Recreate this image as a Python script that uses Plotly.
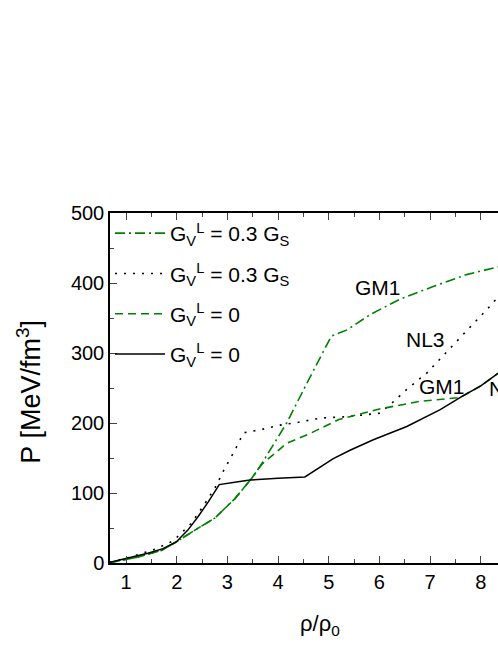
import plotly.graph_objects as go

# NL3, G_V^L = 0 (solid black)
nl3_x = [0.68, 1.04, 1.43, 1.73, 1.99, 2.22, 2.42, 2.62, 2.84, 3.21, 3.45, 4.0, 4.53,
         5.09, 5.42, 5.88, 6.54, 7.2, 7.63, 8.0, 8.34]
nl3_y = [1, 7, 14, 20.5, 30, 47, 66, 87, 112, 116, 118.5, 121, 123,
         149, 161, 176, 195, 219, 238, 253, 271]

# NL3, G_V^L = 0.3 G_S (dotted black)
nl3v_x = [0.68, 1.04, 1.57, 1.93, 2.28, 2.54, 2.76, 2.94, 3.14, 3.32, 3.69, 4.04, 4.4,
          4.83, 5.36, 6.01, 6.21, 6.54, 6.93, 7.13, 7.46, 7.79, 8.12, 8.34]
nl3v_y = [1, 7.5, 19.6, 31.5, 56, 83, 108, 134, 160, 186, 191, 197, 201,
          207, 209, 214, 226, 248, 271, 286, 311, 337, 362, 380]

# GM1, G_V^L = 0.3 G_S (green dash-dot)
gm1v_x = [0.68, 1.24, 1.70, 1.99, 2.36, 2.75, 3.15, 3.48, 3.64, 4.17, 4.57, 5.05,
          5.36, 5.82, 6.41, 7.06, 7.72, 8.34]
gm1v_y = [0.5, 8.6, 18, 30, 47, 64, 92, 121, 137.5, 200, 257, 324,
          333, 355, 377, 395, 412, 423]

# GM1, G_V^L = 0 (green dashed)
gm1_x = [0.68, 1.24, 1.70, 1.99, 2.36, 2.75, 3.15, 3.48, 3.68, 4.17, 4.63, 5.2,
         6.0, 6.8, 7.53, 7.63, 8.0, 8.34]
gm1_y = [0.5, 8.6, 18, 30, 47, 64, 92, 121, 141, 171, 185, 205,
         220, 231, 236, 238, 253, 271]

GREEN = "#008000"
FONT = "Liberation Sans, Arial, sans-serif"

fig = go.Figure()
fig.add_trace(go.Scatter(x=gm1v_x, y=gm1v_y, mode="lines", legendgroup="a",
                         name="G<sub>V</sub><sup>L</sup> = 0.3 G<sub>S</sub>",
                         line=dict(color=GREEN, width=1.6, dash="10px,4px,2px,4px")))
fig.add_trace(go.Scatter(x=nl3v_x, y=nl3v_y, mode="lines", legendgroup="b",
                         name="G<sub>V</sub><sup>L</sup> = 0.3 G<sub>S</sub>",
                         line=dict(color="black", width=1.6, dash="2px,7px")))
fig.add_trace(go.Scatter(x=gm1_x, y=gm1_y, mode="lines", legendgroup="c",
                         name="G<sub>V</sub><sup>L</sup> = 0",
                         line=dict(color=GREEN, width=1.6, dash="8px,5px")))
fig.add_trace(go.Scatter(x=nl3_x, y=nl3_y, mode="lines", legendgroup="d",
                         name="G<sub>V</sub><sup>L</sup> = 0",
                         line=dict(color="black", width=1.5)))

labels = [("GM1", 5.97, 393, "center"), ("NL3", 6.9, 319, "center"),
          ("GM1", 7.23, 252, "center"), ("NL3", 8.13, 250, "left")]
for txt, lx, ly, anc in labels:
    fig.add_annotation(x=lx, y=ly, text=txt, showarrow=False, xanchor=anc,
                       font=dict(size=21, color="black", family=FONT))

fig.add_annotation(text="P [MeV/fm<sup>3</sup>]", textangle=-90, showarrow=False,
                   xref="paper", yref="paper", x=-0.211, y=0.49,
                   xanchor="center", yanchor="middle",
                   font=dict(size=27, color="black", family=FONT))
fig.add_annotation(text="ρ/ρ<sub>0</sub>", showarrow=False,
                   xref="paper", yref="paper", x=0.541, y=-0.177,
                   xanchor="center", yanchor="middle",
                   font=dict(size=22, color="black", family=FONT))

fig.update_xaxes(range=[0.684, 8.34], showline=True, linecolor="black", linewidth=1.5,
                 mirror="ticks", ticks="inside", ticklen=7, tickwidth=1.2,
                 tickvals=[1, 2, 3, 4, 5, 6, 7, 8], showgrid=False, zeroline=False,
                 minor=dict(tickvals=[1.5, 2.5, 3.5, 4.5, 5.5, 6.5, 7.5], ticks="inside",
                            ticklen=4, tickwidth=1.2),
                 tickfont=dict(size=20, color="black", family=FONT))
fig.update_yaxes(range=[0, 500], showline=True, linecolor="black", linewidth=1.5,
                 ticks="inside", ticklen=7, tickwidth=1.2, dtick=100, showgrid=False,
                 zeroline=False,
                 minor=dict(dtick=50, ticks="inside", ticklen=4, tickwidth=1.2),
                 tickfont=dict(size=20, color="black", family=FONT))

fig.update_layout(
    width=498, height=645,
    margin=dict(l=110, r=0, t=213, b=82),
    plot_bgcolor="white", paper_bgcolor="white",
    showlegend=True,
    legend=dict(x=0.0, y=1.0, xanchor="left", yanchor="top", bgcolor="rgba(0,0,0,0)",
                font=dict(size=21, color="black", family=FONT), tracegroupgap=10,
                itemwidth=50),
)

fig.write_html("out.html", config={"displayModeBar": False},
               post_script="document.body.style.margin='0';"
                           "document.body.style.overflow='hidden';")
